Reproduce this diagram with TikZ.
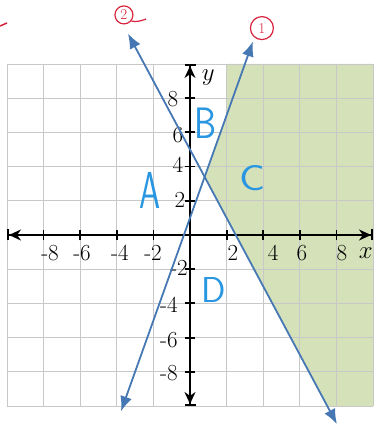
\documentclass[tikz,border=0pt]{standalone}
\usetikzlibrary{arrows.meta}
\definecolor{gridc}{RGB}{200,200,200}
\definecolor{shadec}{RGB}{213,225,184}
\definecolor{linec}{RGB}{70,120,180}
\definecolor{lblue}{RGB}{40,150,225}
\definecolor{redc}{RGB}{215,35,60}
\begin{document}
\begin{tikzpicture}[x=18.3pt,y=17.1pt,
 gridline/.style={draw=gridc,line width=0.9pt},
 axisline/.style={line width=2.2pt,black,{Bar[width=11pt,line width=2pt]Stealth[length=12pt,width=11pt]}-{Stealth[length=12pt,width=11pt]Bar[width=11pt,line width=2pt]}},
 tickmark/.style={line width=1.8pt,black},
 lab/.style={font=\fontsize{23}{23}\selectfont,inner sep=0pt},
 region/.style={text=lblue,inner sep=0pt},
 graphline/.style={draw=linec,line width=1.8pt,{Latex[length=15pt,width=12pt]}-{Latex[length=15pt,width=12pt]}},
 tag/.style={circle,draw=redc,text=redc,line width=1.2pt,inner sep=0pt,font=\fontsize{15}{15}\selectfont}]
\useasboundingbox (-190pt,-195pt) rectangle (184pt,235pt);
% shaded region
\fill[shadec] (2,10) -- (2,7) -- (0.8,3.4) -- (7.5,-10) -- (10,-10) -- (10,10) -- cycle;
% grid
\draw[gridline] (-10,-10) grid[xstep=2,ystep=2] (10,10);
% axes
\coordinate (xl) at (-10,0);
\coordinate (xr) at (10,0);
\coordinate (yb) at (0,-10);
\coordinate (yt) at (0,10);
\draw[axisline] (xl) -- (xr);
\draw[axisline] (yb) -- (yt);
\foreach \i in {-8,-6,-4,-2,2,4,6,8} {
  \draw[tickmark] (\i,-0.32) -- (\i,0.32);
  \draw[tickmark] (-0.3,\i) -- (0.3,\i);
}
% tick labels
\node[lab] (xm8) at (-7.65,-1.05) {-8};
\node[lab] (xm6) at (-5.9,-1.05) {-6};
\node[lab] (xm4) at (-3.83,-1.05) {-4};
\node[lab] (xm2) at (-2.02,-1.05) {-2};
\node[lab] (xp2) at (2.35,-1.05) {2};
\node[lab] (xp4) at (4.54,-1.05) {4};
\node[lab] (xp6) at (6.12,-1.05) {6};
\node[lab] (xp8) at (8.3,-1.05) {8};
\node[lab] (xlab) at (9.6,-1.05) {$x$};
\node[lab] (yp8) at (-0.93,7.95) {8};
\node[lab] (yp6) at (-0.66,5.85) {6};
\node[lab] (yp4) at (-0.66,4.09) {4};
\node[lab] (yp2) at (-0.55,2.05) {2};
\node[lab] (ym2) at (-0.6,-1.93) {-2};
\node[lab] (ym4) at (-1.15,-4.1) {-4};
\node[lab] (ym6) at (-1.15,-6.14) {-6};
\node[lab] (ym8) at (-1.15,-8.07) {-8};
\node[lab] (ylab) at (1.0,9.18) {$y$};
% graphs
\coordinate (l1a) at (-3.77,-10.31);
\coordinate (l1b) at (3.44,11.32);
\coordinate (l2a) at (-3.39,11.78);
\coordinate (l2b) at (8.03,-11.06);
\draw[graphline] (l1a) -- (l1b);
\draw[graphline] (l2a) -- (l2b);
% region labels
\node[region,font=\fontsize{52}{52}\selectfont\sffamily,xscale=0.65] (ra) at (-2.19,2.6) {A};
\node[region,font=\fontsize{44}{44}\selectfont\sffamily,xscale=0.8] (rb) at (0.85,6.55) {B};
\node[region,font=\fontsize{36}{36}\selectfont\sffamily,xscale=1.2] (rc) at (3.39,3.3) {C};
\node[region,font=\fontsize{36}{36}\selectfont\sffamily] (rd) at (1.3,-3.2) {D};
% red tags
\node[tag,minimum size=18pt] (t2) at (-3.61,12.87) {2};
\node[tag,minimum size=23pt] (t1) at (3.93,12.1) {1};
\coordinate (t2tail) at (-2.4,12.63);
\draw[redc,line width=1.2pt] (t2.-40) to[out=-10,in=200] (t2tail);
\coordinate (r1) at (-10.38,12.22);
\coordinate (r2) at (-10.0,12.4);
\draw[redc,line width=1.5pt] (r1) -- (r2);
\end{tikzpicture}
\end{document}
